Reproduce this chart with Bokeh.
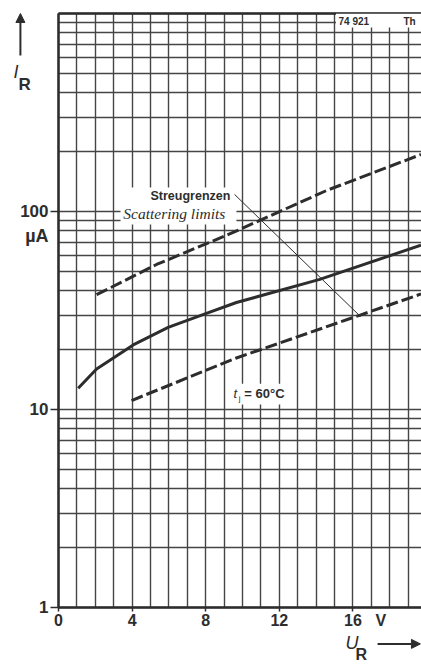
from bokeh.plotting import figure
from bokeh.models import FixedTicker, Label, Arrow, NormalHead, BoxAnnotation, Range1d, Grid
from bokeh.embed import file_html
from bokeh.resources import INLINE

# Reverse voltage U_R (V) and reverse current I_R (µA)
upper_v = [2.07, 5.33, 9.3, 14.6, 19.7]
upper_i = [38, 54, 77, 128, 194]

typ_v = [1.07, 2.07, 4.06, 5.96, 8.0, 9.67, 14.2, 19.7]
typ_i = [12.8, 16, 21.2, 26, 30.5, 34.7, 45.4, 67.6]

lower_v = [3.97, 9.67, 16.36, 19.7]
lower_i = [11.1, 18.2, 29.9, 38.3]

x_ticks = [0, 4, 8, 12, 16]
x_labels = {0: "0", 4: "4", 8: "8", 12: "12", 16: "16"}
y_ticks = [1, 10, 100]
y_labels = {1: "1", 10: "10", 100: "100"}

X_END = 19.728
INK = "#2d2d2d"
GRID = "#454545"
SANS = "Liberation Sans"

p = figure(width=421, height=667, y_axis_type="log",
           x_range=Range1d(-3.152, X_END), y_range=Range1d(0.4977, 1163),
           output_backend="svg", toolbar_location=None, min_border=0)
p.background_fill_color = "white"
p.border_fill_color = "white"
p.outline_line_color = None

# axes placed at the chart's own origin
p.xaxis.fixed_location = 1
p.yaxis.fixed_location = 0
p.xaxis.bounds = (0, X_END)
p.yaxis.bounds = (1, 1000)
p.xaxis.ticker = FixedTicker(ticks=x_ticks)
p.xaxis.major_label_overrides = x_labels
p.yaxis.ticker = FixedTicker(ticks=y_ticks)
p.yaxis.major_label_overrides = y_labels
for ax in (p.xaxis, p.yaxis):
    ax.axis_line_color = INK
    ax.axis_line_width = 2.5
    ax.major_tick_line_color = INK
    ax.major_tick_line_width = 1.5
    ax.major_tick_in = 0
    ax.minor_tick_line_color = None
    ax.major_label_text_font = SANS
    ax.major_label_text_font_style = "bold"
    ax.major_label_text_color = INK
    ax.major_label_text_font_size = "16px"
p.xaxis.major_tick_out = 4
p.xaxis.major_label_standoff = 3
p.yaxis.major_tick_out = 8
p.yaxis.major_label_standoff = 2
p.yaxis.major_label_text_font_size = "17px"

# grid: every volt, every 1..9 x decade
p.xgrid.ticker = FixedTicker(ticks=list(range(0, 20)))
p.ygrid.ticker = FixedTicker(ticks=[m * 10 ** e for e in range(3) for m in range(1, 10)] + [1000])
p.xgrid.cross_bounds = (1, 1000)
p.ygrid.cross_bounds = (0, X_END)
for g in (p.xgrid, p.ygrid):
    g.grid_line_color = GRID
    g.grid_line_width = 1.4
    g.grid_line_alpha = 1
top_border = Grid(dimension=1, ticker=FixedTicker(ticks=[1000]), cross_bounds=(0, X_END),
                  grid_line_color=INK, grid_line_width=2.5)
p.add_layout(top_border)

# white label boxes over the grid
for l, r, b, t in [(3.37, 9.67, 86, 132), (9.24, 12.83, 10.6, 13.5), (15.08, X_END, 850, 998)]:
    p.add_layout(BoxAnnotation(left=l, right=r, bottom=b, top=t, fill_color="white",
                               fill_alpha=1, line_color=None, level="underlay"))

# curves
p.line(upper_v, upper_i, line_width=3, line_color=INK, line_dash="12 4")
p.line(typ_v, typ_i, line_width=3, line_color=INK)
p.line(lower_v, lower_i, line_width=3, line_color=INK, line_dash="12 4")

# leader line for scattering limits
p.segment(x0=[9.57], y0=[121.9], x1=[16.41], y1=[29.5], line_width=1, line_color=INK)

def lab(x, y, text, size, style="bold", font=SANS, align="left", baseline="middle"):
    p.add_layout(Label(x=x, y=y, text=text, text_font=font, text_font_style=style,
                       text_font_size=size, text_color=INK, text_align=align,
                       text_baseline=baseline))

lab(5.0, 120.4, "Streugrenzen", "12.5px")
lab(3.52, 97.3, "Scattering limits", "15.5px", style="italic", font="Liberation Serif")
lab(9.51, 12.05, "t", "13px", style="italic")
lab(9.8, 11.4, "j", "8px", style="normal")
lab(10.1, 12.05, "= 60°C", "13px")
lab(15.22, 914, "74 921", "10px")
lab(18.75, 914, "Th", "10px")
lab(-0.54, 75.6, "µA", "18px", align="right")
lab(17.23, 0.86, "V", "16px")

# axis titles
lab(-2.45, 504, "I", "18px", style="italic")
lab(-2.17, 438, "R", "17px")
lab(15.6, 0.66, "U", "18px", style="italic")
lab(16.14, 0.582, "R", "16px")

p.add_layout(Arrow(end=NormalHead(size=9, fill_color=INK, line_color=INK),
                   x_start=-2.07, y_start=613, x_end=-2.07, y_end=1000,
                   line_color=INK, line_width=2))
p.add_layout(Arrow(end=NormalHead(size=9, fill_color=INK, line_color=INK),
                   x_start=17.34, y_start=0.655, x_end=19.67, y_end=0.655,
                   line_color=INK, line_width=2))

open("out.html", "w").write(file_html(p, INLINE))
